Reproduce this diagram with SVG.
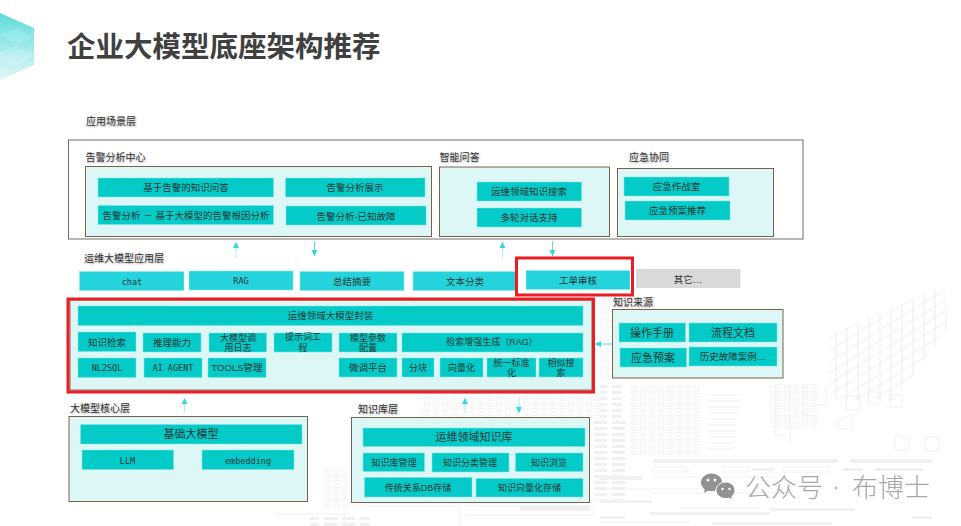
<svg xmlns="http://www.w3.org/2000/svg" width="961" height="526" viewBox="0 0 961 526">
<style>
text{font-family:"Liberation Sans","Noto Sans CJK SC",sans-serif;text-anchor:middle;fill:#223636}
.l{font-size:10px;text-anchor:start;fill:#333;text-shadow:1px 1px 2px rgba(0,0,0,.35)}
.t{font-size:9.5px}.s{font-size:9px}.b{font-size:11px}
.w{font-size:9px}
.m{font-family:"DejaVu Sans Mono","Liberation Mono",monospace;font-size:8.5px}
.panel{fill:#d8f6f6;fill-opacity:.88;stroke:#7a6248;stroke-width:1}
.box{fill:#04cbc7;stroke:#7fe6e3;stroke-width:.5}
.app{fill:#25d3dc;stroke:#8fe9ed;stroke-width:.5}
.red{fill:none;stroke:#ea1c24;stroke-width:3}
.u{stroke:#a8eef0;stroke-width:1;fill:none}
.d{stroke:#5fdde2;stroke-width:1;fill:none}
.bg{fill:#f1f1f1}.bgl{fill:none;stroke:#f0f0f0;stroke-width:1}
.wm{font-family:"Noto Sans CJK SC",sans-serif;font-size:26px;text-anchor:start;fill:#a8a8a8;font-weight:300}
</style>
<defs>
<linearGradient id="hex" x1="0" y1="0" x2="0" y2="1"><stop offset="0" stop-color="#5edcdc"/><stop offset=".55" stop-color="#a5ebeb"/><stop offset="1" stop-color="#e2f7f7"/></linearGradient>
<pattern id="dots" width="9" height="6" patternUnits="userSpaceOnUse"><rect x="1" y="1" width="6" height="3" rx="1" fill="none" stroke="#eeeeee" stroke-width=".8"/></pattern>
<pattern id="solid" width="18" height="6" patternUnits="userSpaceOnUse"><rect x="0" y="1" width="13" height="3" fill="#f0f0f0"/></pattern>
<pattern id="tile" width="11" height="11" patternUnits="userSpaceOnUse" patternTransform="skewY(-32)"><rect x="0" y="0" width="11" height="11" fill="none" stroke="#eeeeee" stroke-width="1"/></pattern>
<marker id="ah" markerWidth="7" markerHeight="7" refX="6" refY="3" orient="auto" markerUnits="userSpaceOnUse"><path d="M0 0L6 3L0 6Z" fill="#33d6dc"/></marker>
</defs>
<rect width="961" height="526" fill="#fff"/>
<g id="background">
<polygon points="0,13 34,28 34,65 0,80" fill="url(#hex)"/>
<polygon points="0,34 17,28 34,37 17,46" fill="#fff" fill-opacity=".12"/>
<polygon points="0,52 17,46 34,55 17,66 0,62" fill="#fff" fill-opacity=".18"/>
<polygon points="827,400 830,335 945,285 947,330 895,400" fill="url(#tile)"/>
<rect x="600" y="385" width="22" height="75" fill="url(#solid)"/>
<rect x="630" y="385" width="70" height="70" fill="url(#dots)"/>
<rect x="600" y="300" width="12" height="80" fill="url(#dots)"/>
<path class="bgl" d="M708 395h32M708 401h32M708 407h32M708 413h30M708 419h28M708 425h28M708 431h28M708 437h28M708 443h26M708 449h24"/>
<rect x="770" y="383" width="50" height="45" fill="url(#dots)"/>
<path class="bgl" d="M775 385v50h8M790 385v60M803 385v30h8M826 385v20h-8M846 396h14v14h-14zM868 392h12v12h-12zM890 395h12v12h-12zM838 420l14-5v14h-14zM895 435l14 3v12h-14zM925 437h14v14h-14z"/>
<rect x="420" y="392" width="180" height="26" fill="url(#dots)"/>
<rect x="322" y="468" width="26" height="42" fill="url(#dots)"/>
<rect x="353" y="420" width="12" height="78" fill="url(#dots)"/>
<rect x="585" y="420" width="40" height="80" fill="url(#solid)"/>
<rect x="653" y="459" width="185" height="4" class="bg"/><rect x="850" y="459" width="82" height="4" class="bg"/>
<rect x="600" y="476" width="42" height="4" class="bg"/><rect x="752" y="468" width="22" height="3" class="bg"/><rect x="843" y="468" width="20" height="3" class="bg"/><rect x="875" y="468" width="48" height="3" class="bg"/>
<rect x="600" y="500" width="52" height="3" class="bg"/><rect x="770" y="508" width="85" height="3" class="bg"/><rect x="650" y="512" width="120" height="3" class="bg"/><rect x="712" y="522" width="120" height="3" class="bg"/><rect x="600" y="516" width="25" height="3" class="bg"/><rect x="912" y="516" width="20" height="3" class="bg"/>
<path class="bgl" d="M653 467h35v5h-35zM722 467h27v5h-27zM783 467h47v5h-47zM653 477h120M653 493h140M600 489h130M680 508h80"/>
<path class="bgl" d="M275 514h70v12M350 506h110v20M465 506h130M465 515h130M600 522h90"/>
<rect x="310" y="516" width="60" height="10" fill="url(#solid)"/>
<rect x="520" y="506" width="70" height="5" class="bg"/>
</g>
<text x="67" y="57" style="font-size:28.5px;font-weight:700;text-anchor:start;fill:#404040;font-family:'Noto Sans CJK SC',sans-serif">企业大模型底座架构推荐</text>
<g id="connectors">
<path class="u" marker-end="url(#ah)" d="M236 258V242"/>
<path class="d" marker-end="url(#ah)" d="M314.500 241V256"/>
<path class="u" marker-end="url(#ah)" d="M502.500 258V242"/>
<path class="d" marker-end="url(#ah)" d="M552.500 241V256"/>
<path class="d" marker-end="url(#ah)" d="M613 344H595"/>
<path class="u" marker-end="url(#ah)" d="M184.500 412V398"/>
<path class="u" marker-end="url(#ah)" d="M465 413V398"/>
<path class="u" marker-end="url(#ah)" d="M519 398V413"/>
</g>
<g id="scene-layer"><rect x="68.500" y="140" width="734.500" height="99" fill="#fff" stroke="#6e6e6e" stroke-width="1"/><text class="l" x="86" y="124.500">应用场景层</text></g>
<g id="alarm"><text class="l" x="85.500" y="161">告警分析中心</text><rect class="panel" x="85.500" y="166.500" width="346" height="70"/>
<rect class="box" x="98" y="178" width="175.500" height="19"/><text class="t" x="186" y="191">基于告警的知识问答</text>
<rect class="box" x="285.500" y="178" width="139.500" height="19"/><text class="t" x="355" y="191">告警分析展示</text>
<rect class="box" x="98" y="205.500" width="175.500" height="19"/><text class="t" x="186" y="219">告警分析 － 基于大模型的告警根因分析</text>
<rect class="box" x="286" y="206" width="140" height="19"/><text class="t" x="356" y="220">告警分析-已知故障</text></g>
<g id="qa"><text class="l" x="439.500" y="161">智能问答</text><rect class="panel" x="439.500" y="167" width="170" height="69.500"/>
<rect class="box" x="477" y="182" width="104.500" height="19"/><text class="t" x="529" y="195">运维领域知识搜索</text>
<rect class="box" x="477" y="208" width="104.500" height="19"/><text class="t" x="529" y="221">多轮对话支持</text></g>
<g id="emergency"><text class="l" x="629" y="161">应急协同</text><rect class="panel" x="617.500" y="168.500" width="156" height="68"/>
<rect class="box" x="624" y="177" width="105" height="19"/><text class="t" x="676.500" y="190">应急作战室</text>
<rect class="box" x="625" y="201" width="105" height="19"/><text class="t" x="677.500" y="214">应急预案推荐</text></g>
<g id="app-layer"><text class="l" x="84" y="262">运维大模型应用层</text>
<rect class="app" x="79.500" y="271.500" width="104.500" height="19"/><text class="m" x="132" y="285">chat</text>
<rect class="app" x="189" y="271" width="104" height="19"/><text class="m" x="241" y="284">RAG</text>
<rect class="app" x="300" y="271.500" width="104" height="19"/><text class="t" x="352" y="285">总结摘要</text>
<rect class="app" x="413" y="271.500" width="104.500" height="19"/><text class="t" x="465" y="285">文本分类</text>
<rect class="app" x="526" y="270.500" width="104" height="19"/><text class="t" x="578" y="284">工单审核</text>
<rect x="636" y="269" width="104.500" height="19" fill="#d9d9d9"/><text class="t" x="688" y="283">其它…</text>
<rect class="red" x="516.500" y="258" width="116" height="37"/></g>
<g id="wrap"><rect class="panel" x="70" y="300" width="522" height="90"/>
<rect class="box" x="78" y="306" width="505" height="19.500"/><text class="t" x="330.500" y="319">运维领域大模型封装</text>
<rect class="box" x="78" y="332" width="58" height="19.500"/><text class="t" x="107" y="346">知识检索</text>
<rect class="box" x="143" y="333" width="58" height="19"/><text class="t" x="172" y="346">推理能力</text>
<rect class="box" x="209" y="333" width="57.500" height="19"/><text class="w" x="238" y="340.500">大模型调</text><text class="w" x="238" y="351">用日志</text>
<rect class="box" x="274" y="333" width="58" height="19"/><text class="w" x="303" y="340">提示词工</text><text class="w" x="303" y="350.500">程</text>
<rect class="box" x="339" y="333" width="58" height="19"/><text class="w" x="368" y="340.500">模型参数</text><text class="w" x="368" y="351">配置</text>
<rect class="box" x="402" y="333" width="181" height="19"/><text class="s" x="492" y="345">检索增强生成（RAG）</text>
<rect class="box" x="78" y="358" width="58" height="19.500"/><text class="m" x="107" y="371">NL2SQL</text>
<rect class="box" x="144" y="358" width="58" height="19.500"/><text class="m" x="173" y="371">AI AGENT</text>
<rect class="box" x="208" y="358" width="58" height="19.500"/><text class="t" x="237" y="371">TOOLS管理</text>
<rect class="box" x="339" y="358" width="58" height="19"/><text class="t" x="368" y="371">微调平台</text>
<rect class="box" x="402" y="358" width="32" height="19"/><text class="s" x="418" y="371">分块</text>
<rect class="box" x="440" y="358" width="43" height="19"/><text class="s" x="461.500" y="371">向量化</text>
<rect class="box" x="487" y="358" width="49" height="19"/><text class="w" x="511.500" y="365.500">统一标准</text><text class="w" x="511.500" y="376">化</text>
<rect class="box" x="539" y="358" width="44" height="19"/><text class="w" x="561" y="365.500">相似搜</text><text class="w" x="561" y="376">索</text>
<rect class="red" x="68" y="299" width="525.500" height="93"/></g>
<g id="sources"><text class="l" x="613" y="306">知识来源</text><rect class="panel" x="612.500" y="309.500" width="170.500" height="68.500"/>
<rect class="box" x="619" y="323" width="66.500" height="19"/><text class="b" x="652" y="337">操作手册</text>
<rect class="box" x="689" y="323" width="88" height="19"/><text class="b" x="733" y="337">流程文档</text>
<rect class="box" x="620" y="348" width="66.500" height="19"/><text class="b" x="653" y="362">应急预案</text>
<rect class="box" x="689" y="347" width="88" height="19"/><text class="t" x="733" y="360">历史故障案例…</text></g>
<g id="core"><text class="l" x="70" y="412">大模型核心层</text><rect class="panel" x="69" y="416.500" width="238.500" height="85"/>
<rect class="box" x="80.500" y="424.500" width="221.500" height="19.500"/><text class="b" x="191" y="438">基础大模型</text>
<rect class="box" x="82" y="450" width="91.500" height="19.500"/><text class="m" x="127.500" y="464">LLM</text>
<rect class="box" x="202" y="450" width="92" height="19.500"/><text class="m" x="248" y="464">embedding</text></g>
<g id="kb"><text class="l" x="358" y="413">知识库层</text><rect class="panel" x="351.500" y="417.500" width="238" height="85"/>
<rect class="box" x="363" y="428" width="222" height="18.500"/><text class="b" x="474" y="441">运维领域知识库</text>
<rect class="box" x="363" y="453" width="61.500" height="18.500"/><text class="s" x="394" y="466">知识库管理</text>
<rect class="box" x="432" y="453" width="77" height="19"/><text class="s" x="470" y="466">知识分类管理</text>
<rect class="box" x="515.500" y="453" width="67.500" height="18.500"/><text class="s" x="549" y="466">知识浏览</text>
<rect class="box" x="364.500" y="477.500" width="107.500" height="19.500"/><text class="s" x="418" y="491">传统关系DB存储</text>
<rect class="box" x="476" y="478.500" width="107" height="18.500"/><text class="s" x="529.500" y="491">知识向量化存储</text></g>
<g id="watermark">
<path d="M711.500 473.500c-5.800 0-10.500 4-10.500 9 0 2.800 1.500 5.200 3.800 6.900l-1 3.600 4-2.200c1.200.3 2.400.5 3.700.5 5.800 0 10.500-4 10.500-9s-4.700-8.800-10.500-8.800z" fill="#929292"/>
<path d="M726 482c-5.600 0-10 3.700-10 8.300s4.400 8.300 10 8.300c1 0 2-.1 3-.4l3.400 1.700-.8-3c2.100-1.500 3.400-4 3.400-6.600 0-4.600-4.400-8.300-9-8.300z" fill="#929292" stroke="#fff" stroke-width="1"/>
<circle cx="708" cy="480" r="1.500" fill="#fff"/><circle cx="715" cy="480" r="1.500" fill="#fff"/><circle cx="722.500" cy="489" r="1.200" fill="#fff"/><circle cx="729.500" cy="489" r="1.200" fill="#fff"/>
<text class="wm" x="745" y="497">公众号</text><circle cx="836" cy="488" r="1.200" fill="#a8a8a8"/><text class="wm" x="852" y="497">布博士</text>
</g>
</svg>
